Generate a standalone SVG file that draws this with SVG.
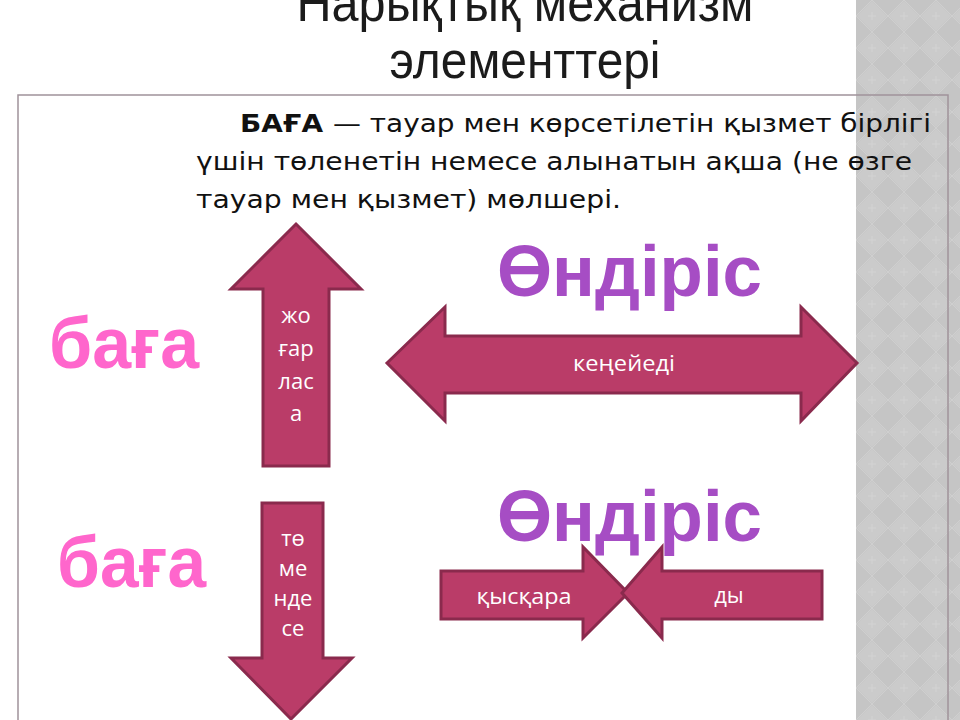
<svg xmlns="http://www.w3.org/2000/svg" width="960" height="720" viewBox="0 0 960 720">
<style>
.arrow{fill:#BA3C68;stroke:#8A2A4D;stroke-width:3;stroke-linejoin:miter}
.lbl{font-family:"Open Sans","Liberation Sans",sans-serif;font-size:22px;fill:#ffffff;text-anchor:middle}
.big{font-family:"Liberation Sans",Arial,sans-serif;font-weight:bold;font-size:72px}
.para{font-family:"DejaVu Sans","Liberation Sans",sans-serif;font-size:25px;fill:#111111}
.title{font-family:"Liberation Sans",Arial,sans-serif;font-size:52px;fill:#1b1b1b;text-anchor:middle}
</style>
<defs>
<pattern id="diam" x="856" y="0" width="32" height="32" patternUnits="userSpaceOnUse">
<rect width="32" height="32" fill="#c5c5c5"/>
<polygon points="16,1 31,16 16,31 1,16" fill="#cbcbcb"/>
<path d="M16,0 L32,16 L16,32 L0,16 Z" fill="none" stroke="#d2d2d2" stroke-width="0.8"/>
<path d="M16,12 V20 M12,16 H20" stroke="#d4d4d4" stroke-width="0.8"/>
</pattern>
</defs>
<rect width="960" height="720" fill="#ffffff"/>
<g id="side-panel">
<rect x="856" y="0" width="104" height="720" fill="url(#diam)"/>
</g>
<g id="title">
<text class="title" x="525" y="21" textLength="457" lengthAdjust="spacingAndGlyphs">Нарықтық механизм</text>
<text class="title" x="525" y="78" textLength="271" lengthAdjust="spacingAndGlyphs">элементтері</text>
</g>
<g id="content-box">
<rect x="18" y="95" width="930" height="660" fill="none" stroke="#a0939a" stroke-width="1.5"/>
</g>
<g id="definition">
<text class="para" x="240" y="132" font-weight="bold" textLength="83" lengthAdjust="spacingAndGlyphs">БАҒА</text>
<text class="para" x="333" y="132" textLength="598" lengthAdjust="spacingAndGlyphs">— тауар мен көрсетілетін қызмет бірлігі</text>
<text class="para" x="196" y="170" textLength="716" lengthAdjust="spacingAndGlyphs">үшін төленетін немесе алынатын ақша (не өзге</text>
<text class="para" x="196" y="208" textLength="425" lengthAdjust="spacingAndGlyphs">тауар мен қызмет) мөлшері.</text>
</g>
<g id="baga-top">
<text class="big" x="49" y="368" fill="#FF66CC" textLength="150" lengthAdjust="spacingAndGlyphs">баға</text>
</g>
<g id="baga-bottom">
<text class="big" x="57" y="587" fill="#FF66CC" textLength="149" lengthAdjust="spacingAndGlyphs">баға</text>
</g>
<g id="ondiris-top">
<text class="big" x="497" y="296" fill="#A64DC4" textLength="265" lengthAdjust="spacingAndGlyphs">Өндіріс</text>
</g>
<g id="ondiris-bottom">
<text class="big" x="497" y="541" fill="#A64DC4" textLength="265" lengthAdjust="spacingAndGlyphs">Өндіріс</text>
</g>
<g id="arrow-up">
<polygon class="arrow" points="296,224 361,289 329,289 329,466 263,466 263,289 231,289"/>
<text class="lbl" x="296" y="323">жо</text>
<text class="lbl" x="296" y="356">ғар</text>
<text class="lbl" x="296" y="389">лас</text>
<text class="lbl" x="296" y="421">а</text>
</g>
<g id="arrow-down">
<polygon class="arrow" points="262,503 323,503 323,658 352,658 291,719 231,658 262,658"/>
<text class="lbl" x="293" y="546">тө</text>
<text class="lbl" x="293" y="576">ме</text>
<text class="lbl" x="293" y="606">нде</text>
<text class="lbl" x="293" y="636">се</text>
</g>
<g id="arrow-double">
<polygon class="arrow" points="387,363 445,307 445,336 801,336 801,307 857,363 801,421 801,393 445,393 445,421"/>
<text class="lbl" x="624" y="371" textLength="102" lengthAdjust="spacingAndGlyphs">кеңейеді</text>
</g>
<g id="arrow-right">
<polygon class="arrow" points="441,571 583,571 583,547 628,593 583,638 583,619 441,619"/>
<text class="lbl" x="524" y="604" textLength="95" lengthAdjust="spacingAndGlyphs">қысқара</text>
</g>
<g id="arrow-left">
<polygon class="arrow" points="822,571 662,571 662,547 622,593 662,638 662,619 822,619"/>
<text class="lbl" x="729" y="603">ды</text>
</g>
</svg>
